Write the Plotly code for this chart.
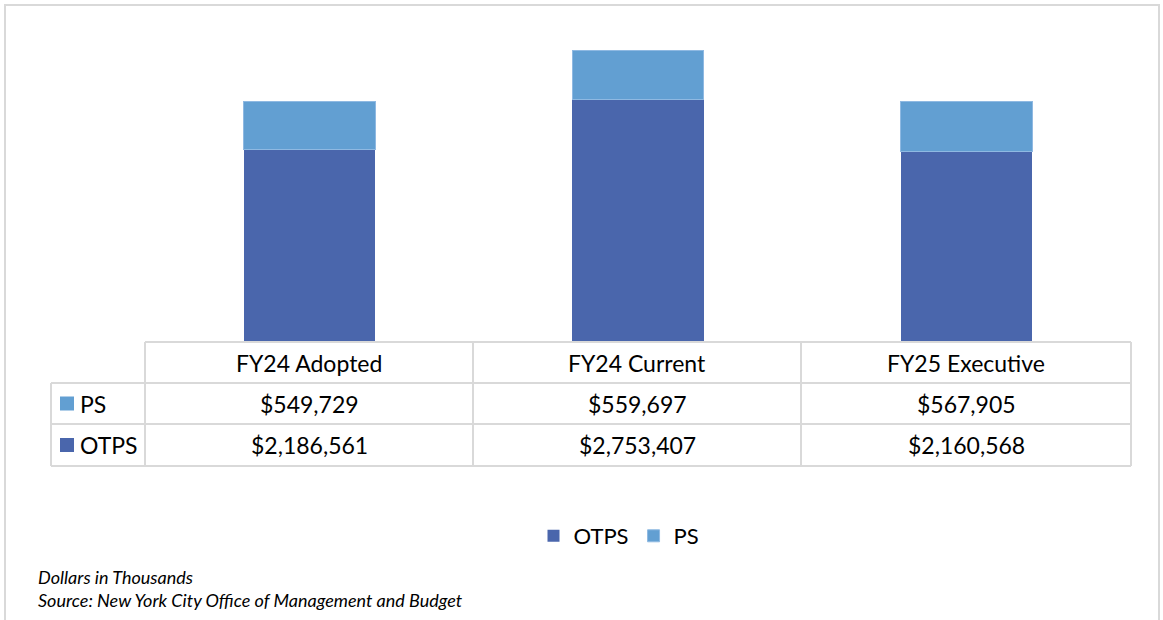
import plotly.graph_objects as go

categories = ["FY24 Adopted", "FY24 Current", "FY25 Executive"]
ps_values = [549729, 559697, 567905]
otps_values = [2186561, 2753407, 2160568]
series_names = ["OTPS", "PS"]
footnotes = ["Dollars in Thousands", "Source: New York City Office of Management and Budget"]

W, H = 1163, 620
OTPS_COLOR = "#4a66ac"
PS_COLOR = "#629fd2"
GRID = "#d9d9d9"
FONT = "Lato, Open Sans, sans-serif"
TXT = 23


def px(x):
    return x / W


def py(y):
    return 1 - y / H


fig = go.Figure()
fig.add_trace(go.Bar(x=categories, y=otps_values, name=series_names[0],
                     marker=dict(color=OTPS_COLOR, line=dict(width=0))))
fig.add_trace(go.Bar(x=categories, y=ps_values, name=series_names[1],
                     marker=dict(color=PS_COLOR, line=dict(color="#8fb9e2", width=1))))

shapes = []
# outer border
shapes.append(dict(type="rect", xref="paper", yref="paper", x0=px(5), x1=px(1159), y0=py(640), y1=py(5),
                   line=dict(color=GRID, width=2)))
# data table grid
tbl_x = [145, 473, 801, 1131]
row_y = [342, 383, 424, 466]
shapes.append(dict(type="line", xref="paper", yref="paper", x0=px(145), x1=px(1131), y0=py(342), y1=py(342),
                   line=dict(color=GRID, width=2)))
for yy in row_y[1:]:
    shapes.append(dict(type="line", xref="paper", yref="paper", x0=px(51), x1=px(1131), y0=py(yy), y1=py(yy),
                       line=dict(color=GRID, width=2)))
shapes.append(dict(type="line", xref="paper", yref="paper", x0=px(51), x1=px(51), y0=py(383), y1=py(466),
                   line=dict(color=GRID, width=2)))
for xx in tbl_x:
    shapes.append(dict(type="line", xref="paper", yref="paper", x0=px(xx), x1=px(xx), y0=py(342), y1=py(466),
                       line=dict(color=GRID, width=2)))

annotations = []
text_font = dict(family=FONT, size=TXT, color="#000000")
for i, cat in enumerate(categories):
    cx = (tbl_x[i] + tbl_x[i + 1]) / 2
    annotations.append(dict(xref="paper", yref="paper", x=px(cx), y=py(362.5), text=cat, showarrow=False,
                            xanchor="center", yanchor="middle", font=text_font))
    annotations.append(dict(xref="paper", yref="paper", x=px(cx), y=py(403.5), text=f"${ps_values[i]:,}",
                            showarrow=False, xanchor="center", yanchor="middle", font=text_font))
    annotations.append(dict(xref="paper", yref="paper", x=px(cx), y=py(445), text=f"${otps_values[i]:,}",
                            showarrow=False, xanchor="center", yanchor="middle", font=text_font))

# row legend keys
for name, color, yc in [(series_names[1], PS_COLOR, 403.5), (series_names[0], OTPS_COLOR, 445)]:
    shapes.append(dict(type="rect", xref="paper", yref="paper", x0=px(60), x1=px(74), y0=py(yc + 7), y1=py(yc - 7),
                       fillcolor=color, line=dict(width=0)))
    annotations.append(dict(xref="paper", yref="paper", x=px(78), y=py(yc), text=name, showarrow=False,
                            xanchor="left", yanchor="middle", font=text_font))

for i, t in enumerate(footnotes):
    annotations.append(dict(xref="paper", yref="paper", x=px(36), y=py(577 + 23 * i), text=f"<i>{t}</i>",
                            showarrow=False, xanchor="left", yanchor="middle",
                            font=dict(family=FONT, size=18, color="#000000")))

fig.update_layout(
    width=W, height=H,
    margin=dict(l=0, r=0, t=0, b=0),
    paper_bgcolor="white", plot_bgcolor="white",
    barmode="stack", bargap=0.6,
    showlegend=True,
    legend=dict(orientation="h", x=px(619), xanchor="center", y=py(536), yanchor="middle",
                traceorder="normal", font=dict(family=FONT, size=22, color="#000000"),
                itemwidth=30, bgcolor="rgba(0,0,0,0)"),
    xaxis=dict(domain=[px(145), px(1131)], range=[-0.5, 2.5], showticklabels=False, showline=False,
               showgrid=False, zeroline=False, ticks=""),
    yaxis=dict(domain=[py(342), py(34)], range=[0, 3500000], showticklabels=False, showline=False,
               showgrid=False, zeroline=False, ticks=""),
    shapes=shapes,
    annotations=annotations,
    font=dict(family=FONT),
)

fig.write_html("out.html", config={"displayModeBar": False},
               post_script="document.body.style.margin='0';")
